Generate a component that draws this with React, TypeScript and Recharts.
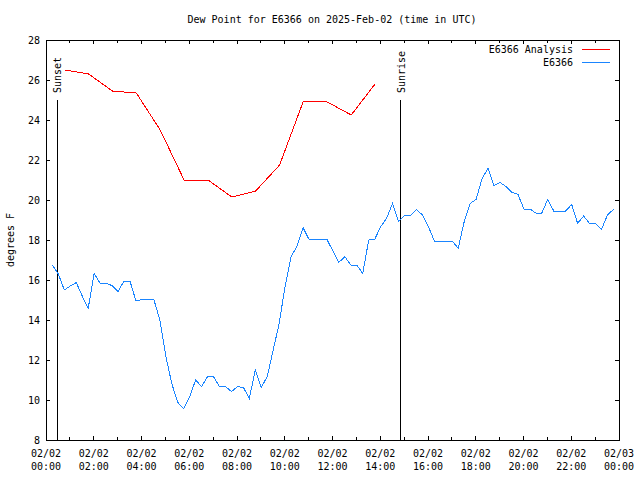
import React from "react";
import { LineChart, Line, XAxis, YAxis, ReferenceLine, ReferenceArea, Legend } from "recharts";

const FONT = "'DejaVu Sans Mono', 'Liberation Mono', monospace";

const TITLE = "Dew Point for E6366 on 2025-Feb-02 (time in UTC)";
const Y_LABEL = "degrees F";

const xTicks = [0, 2, 4, 6, 8, 10, 12, 14, 16, 18, 20, 22, 24];
const xTickLabels = [
  ["02/02", "00:00"], ["02/02", "02:00"], ["02/02", "04:00"], ["02/02", "06:00"],
  ["02/02", "08:00"], ["02/02", "10:00"], ["02/02", "12:00"], ["02/02", "14:00"],
  ["02/02", "16:00"], ["02/02", "18:00"], ["02/02", "20:00"], ["02/02", "22:00"],
  ["02/03", "00:00"],
];
const xMinorTicks = [1, 3, 5, 7, 9, 11, 13, 15, 17, 19, 21, 23];
const yTicks = [8, 10, 12, 14, 16, 18, 20, 22, 24, 26, 28];

const analysisName = "E6366 Analysis";
const analysisTimes = [
  "00:47", "01:47", "02:47", "03:47", "04:47", "05:47", "06:47",
  "07:47", "08:47", "09:47", "10:47", "11:47", "12:47", "13:47",
];
const analysisValues = [26.5, 26.3, 25.45, 25.35, 23.5, 21.0, 21.0, 20.15, 20.45, 21.75, 24.95, 24.9, 24.25, 25.8];

const obsName = "E6366";
const obsTimes = [
  "00:16", "00:31", "00:46",
  "01:01", "01:16", "01:31", "01:46",
  "02:01", "02:16", "02:31", "02:46",
  "03:01", "03:16", "03:31", "03:46",
  "04:01", "04:16", "04:31", "04:46",
  "05:01", "05:16", "05:31", "05:46",
  "06:01", "06:16", "06:31", "06:46",
  "07:01", "07:16", "07:31", "07:46",
  "08:01", "08:16", "08:31", "08:46",
  "09:01", "09:16", "09:31", "09:46",
  "10:01", "10:16", "10:31", "10:46",
  "11:01", "11:16", "11:31", "11:46",
  "12:01", "12:16", "12:31", "12:46",
  "13:01", "13:16", "13:31", "13:46",
  "14:01", "14:16", "14:31", "14:46",
  "15:01", "15:16", "15:31", "15:46",
  "16:01", "16:16", "16:31", "16:46",
  "17:01", "17:16", "17:31", "17:46",
  "18:01", "18:16", "18:31", "18:46",
  "19:01", "19:16", "19:31", "19:46",
  "20:01", "20:16", "20:31", "20:46",
  "21:01", "21:16", "21:31", "21:46",
  "22:01", "22:16", "22:31", "22:46",
  "23:01", "23:16", "23:31", "23:46",
];
const obsValues = [
  16.75, 16.3, 15.5,
  15.7, 15.87, 15.2, 14.58,
  16.33, 15.83, 15.83, 15.72,
  15.42, 15.95, 15.95, 14.95,
  15.03, 15.03, 15.03, 14.0,
  12.2, 10.83, 9.88, 9.58,
  10.17, 11.0, 10.67, 11.17,
  11.17, 10.67, 10.67, 10.42,
  10.67, 10.63, 10.08, 11.5,
  10.63, 11.17, 12.5, 13.83,
  15.7, 17.17, 17.7, 18.62,
  18.03, 18.03, 18.03, 18.03,
  17.45, 16.88, 17.17, 16.75,
  16.75, 16.33, 18.0, 18.03,
  18.67, 19.08, 19.83, 18.92,
  19.23, 19.23, 19.53, 19.25,
  18.67, 17.95, 17.95, 17.95,
  17.95, 17.58, 18.92, 19.83,
  20.03, 21.08, 21.58, 20.72,
  20.88, 20.67, 20.38, 20.28,
  19.55, 19.55, 19.35, 19.35,
  20.03, 19.45, 19.45, 19.45,
  19.78, 18.83, 19.2, 18.83,
  18.83, 18.53, 19.25, 19.53,
];

const sunsetTime = "00:28";
const sunriseTime = "14:51";
const sunMarkerTop = 25;

const toHours = (s: string) => {
  const [h, m] = s.split(":").map(Number);
  return h + m / 60;
};

const analysisData = analysisTimes.map((t, i) => ({ t: toHours(t), v: analysisValues[i] }));
const obsData = obsTimes.map((t, i) => ({ t: toHours(t), v: obsValues[i] }));

const X_MIN = 0, X_MAX = 24, Y_MIN = 8, Y_MAX = 28;
const MAJOR_X = 0.17, MAJOR_Y = 0.2, MINOR_Y = 0.13;

const XTick = (props: any) => {
  const { x, y, payload } = props;
  const idx = xTicks.indexOf(payload.value);
  const lab = xTickLabels[idx] || ["", ""];
  return (
    <g>
      <text x={x} y={y + 17} textAnchor="middle" fontFamily={FONT} fontSize={10} fill="#000">{lab[0]}</text>
      <text x={x} y={y + 30} textAnchor="middle" fontFamily={FONT} fontSize={10} fill="#000">{lab[1]}</text>
    </g>
  );
};

const SunLabel = (props: any) => {
  const { viewBox, text } = props;
  if (!viewBox) return null;
  const x = viewBox.x + 4;
  const y = viewBox.y - 7;
  return (
    <text x={x} y={y} transform={`rotate(-90, ${x}, ${y})`} textAnchor="start" fontFamily={FONT} fontSize={10} fill="#000">
      {text}
    </text>
  );
};

const legendItems = [
  { name: analysisName, color: "#ff0000" },
  { name: obsName, color: "#1a85ff" },
];

const LegendContent = () => (
  <div style={{ fontFamily: FONT, fontSize: 10, color: "#000" }}>
    {legendItems.map((it) => (
      <div key={it.name} style={{ display: "flex", justifyContent: "flex-end", alignItems: "center", height: 13 }}>
        <span style={{ whiteSpace: "pre" }}>{it.name}</span>
        <svg width={28} height={13} style={{ marginLeft: 9, display: "block" }}>
          <line x1={0} x2={28} y1={6.5} y2={6.5} stroke={it.color} strokeWidth={1} shapeRendering="crispEdges" />
        </svg>
      </div>
    ))}
  </div>
);

export default function App() {
  return (
    <div style={{ position: "absolute", left: 0, top: 0, width: 640, height: 480, background: "#fff" }}>
      <div style={{ position: "absolute", left: 0, top: 14, width: 664, textAlign: "center", fontFamily: FONT, fontSize: 10, color: "#000" }}>
        {TITLE}
      </div>
      <div style={{ position: "absolute", left: 4, top: 240, width: 0, height: 0 }}>
        <div style={{ position: "absolute", transform: "translate(-50%, -50%) rotate(-90deg)", left: 6, top: 0, whiteSpace: "nowrap", fontFamily: FONT, fontSize: 10, color: "#000" }}>
          {Y_LABEL}
        </div>
      </div>
      <LineChart width={640} height={480} margin={{ top: 40, right: 21, bottom: 0, left: 6 }}>
        <XAxis
          dataKey="t"
          type="number"
          domain={[X_MIN, X_MAX]}
          ticks={xTicks}
          interval={0}
          allowDataOverflow
          axisLine={false}
          tickLine={false}
          tickSize={0}
          tickMargin={0}
          height={40}
          tick={<XTick />}
        />
        <YAxis
          type="number"
          domain={[Y_MIN, Y_MAX]}
          ticks={yTicks}
          interval={0}
          allowDataOverflow
          axisLine={false}
          tickLine={false}
          tickSize={0}
          tickMargin={6}
          width={40}
          tick={{ fontFamily: FONT, fontSize: 10, fill: "#000" }}
        />
        <Legend layout="vertical" align="center" verticalAlign="middle" content={<LegendContent />} wrapperStyle={{ top: 43, left: 300, width: 310 }} />
        <ReferenceArea x1={X_MIN} x2={X_MAX} y1={Y_MIN} y2={Y_MAX} fill="none" stroke="#000" strokeWidth={1} ifOverflow="visible" shapeRendering="crispEdges" />
        {yTicks.map((v) => (
          <ReferenceLine key={`yl${v}`} segment={[{ x: X_MIN, y: v }, { x: X_MIN + MAJOR_X, y: v }]} stroke="#000" ifOverflow="visible" shapeRendering="crispEdges" />
        ))}
        {yTicks.map((v) => (
          <ReferenceLine key={`yr${v}`} segment={[{ x: X_MAX - MAJOR_X, y: v }, { x: X_MAX, y: v }]} stroke="#000" ifOverflow="visible" shapeRendering="crispEdges" />
        ))}
        {xTicks.map((v) => (
          <ReferenceLine key={`xb${v}`} segment={[{ x: v, y: Y_MIN }, { x: v, y: Y_MIN + MAJOR_Y }]} stroke="#000" ifOverflow="visible" shapeRendering="crispEdges" />
        ))}
        {xTicks.map((v) => (
          <ReferenceLine key={`xt${v}`} segment={[{ x: v, y: Y_MAX - MAJOR_Y }, { x: v, y: Y_MAX }]} stroke="#000" ifOverflow="visible" shapeRendering="crispEdges" />
        ))}
        {xMinorTicks.map((v) => (
          <ReferenceLine key={`xmb${v}`} segment={[{ x: v, y: Y_MIN }, { x: v, y: Y_MIN + MINOR_Y }]} stroke="#000" ifOverflow="visible" shapeRendering="crispEdges" />
        ))}
        {xMinorTicks.map((v) => (
          <ReferenceLine key={`xmt${v}`} segment={[{ x: v, y: Y_MAX - MINOR_Y }, { x: v, y: Y_MAX }]} stroke="#000" ifOverflow="visible" shapeRendering="crispEdges" />
        ))}
        <ReferenceLine
          segment={[{ x: toHours(sunsetTime), y: Y_MIN }, { x: toHours(sunsetTime), y: sunMarkerTop }]}
          stroke="#000"
          ifOverflow="visible"
          shapeRendering="crispEdges"
          label={<SunLabel text="Sunset" />}
        />
        <ReferenceLine
          segment={[{ x: toHours(sunriseTime), y: Y_MIN }, { x: toHours(sunriseTime), y: sunMarkerTop }]}
          stroke="#000"
          ifOverflow="visible"
          shapeRendering="crispEdges"
          label={<SunLabel text="Sunrise" />}
        />
        <Line data={analysisData} dataKey="v" name={analysisName} stroke="#ff0000" strokeWidth={1} dot={false} activeDot={false} isAnimationActive={false} shapeRendering="crispEdges" />
        <Line data={obsData} dataKey="v" name={obsName} stroke="#1a85ff" strokeWidth={1} dot={false} activeDot={false} isAnimationActive={false} shapeRendering="crispEdges" />
      </LineChart>
    </div>
  );
}
